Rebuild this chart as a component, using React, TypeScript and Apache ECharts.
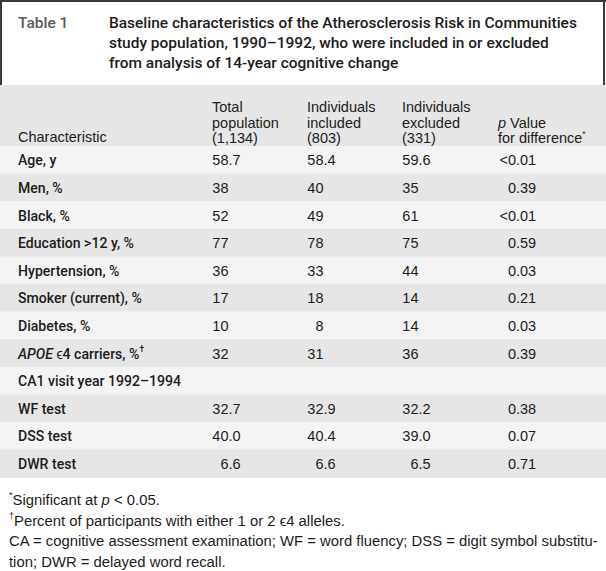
import React, { useEffect, useRef } from "react";
import * as echarts from "echarts";

const tableLabel = "Table 1";
const titleLines = [
  "Baseline characteristics of the Atherosclerosis Risk in Communities",
  "study population, 1990–1992, who were included in or excluded",
  "from analysis of 14-year cognitive change",
];
const firstHeader = "Characteristic";
const columnHeaders = [
  ["Total", "population", "(1,134)"],
  ["Individuals", "included", "(803)"],
  ["Individuals", "excluded", "(331)"],
  ["{i|p} Value", "for difference{sup|*}"],
];
const characteristics = [
  "Age, y",
  "Men, %",
  "Black, %",
  "Education >12 y, %",
  "Hypertension, %",
  "Smoker (current), %",
  "Diabetes, %",
  "{bi|APOE} ϵ4 carriers, %{sup|†}",
  "CA1 visit year 1992–1994",
  "WF test",
  "DSS test",
  "DWR test",
];
const totalPopulation = ["58.7", "38", "52", "77", "36", "17", "10", "32", "", "32.7", "40.0", "6.6"];
const individualsIncluded = ["58.4", "40", "49", "78", "33", "18", "8", "31", "", "32.9", "40.4", "6.6"];
const individualsExcluded = ["59.6", "35", "61", "75", "44", "14", "14", "36", "", "32.2", "39.0", "6.5"];
const pValues = ["<0.01", "0.39", "<0.01", "0.59", "0.03", "0.21", "0.03", "0.39", "", "0.38", "0.07", "0.71"];
const footnotes = [
  "{sup|*}Significant at {i|p} < 0.05.",
  "{sup|†}Percent of participants with either 1 or 2 ϵ4 alleles.",
  "CA = cognitive assessment examination; WF = word fluency; DSS = digit symbol substitu-",
  "tion; DWR = delayed word recall.",
];

const SANS = "'Liberation Sans', Arial, sans-serif";
const HEAD = "Roboto, 'Liberation Sans', Arial, sans-serif";
const INK = "#1c1c1c";

function fitSize(text: string, family: string, weight: string, target: number, fallback: number) {
  try {
    const ctx = document.createElement("canvas").getContext("2d");
    if (!ctx) return fallback;
    ctx.font = `${weight} 100px ${family}`;
    const w = ctx.measureText(text).width;
    if (!w) return fallback;
    return (100 * target) / w;
  } catch (e) {
    return fallback;
  }
}

export default function App() {
  const ref = useRef<HTMLDivElement>(null);

  useEffect(() => {
    document.body.style.margin = "0";
    if (!ref.current) return;
    const chart = echarts.init(ref.current, undefined, { renderer: "svg" });

    const W = 606;
    const els: any[] = [];

    const titleSize = fitSize(titleLines[0], HEAD, "500", 468, 15.5);
    const labelSize = fitSize("Smoker (current), %", HEAD, "500", 124, 14);
    const footSize = fitSize(footnotes[2], SANS, "normal", 590, 15);
    const bodySize = 14.5;

    const txt = (text: string, x: number, y: number, o: any = {}) => {
      const align = o.align || "left";
      const va = o.va || "middle";
      els.push({
        type: "text",
        z: 10,
        style: {
          text,
          x,
          y,
          fill: o.fill || INK,
          fontFamily: o.family || SANS,
          fontSize: o.size || bodySize,
          fontWeight: o.weight || "normal",
          fontStyle: o.style || "normal",
          lineHeight: o.lh || 18,
          align,
          textAlign: align,
          verticalAlign: va,
          textVerticalAlign: va,
          rich: o.rich,
        },
      });
    };

    // title box
    els.push({ type: "rect", shape: { x: 0, y: 0, width: W, height: 85 }, style: { fill: "#ffffff" } });
    els.push({ type: "line", shape: { x1: 0, y1: 1, x2: W, y2: 1 }, style: { stroke: "#3a3a3a", lineWidth: 2 } });
    els.push({ type: "line", shape: { x1: 1, y1: 0, x2: 1, y2: 85 }, style: { stroke: "#3a3a3a", lineWidth: 2 } });
    els.push({ type: "line", shape: { x1: 604, y1: 0, x2: 604, y2: 85 }, style: { stroke: "#3a3a3a", lineWidth: 2 } });

    txt(tableLabel, 18, 23, { size: titleSize, weight: "500", fill: "#5a5a5a", family: HEAD });
    titleLines.forEach((l, i) => txt(l, 109, 23 + i * 20, { size: titleSize, weight: "500", family: HEAD }));

    // header band
    const headerTop = 85;
    const bodyTop = 146;
    const rowH = 27.6;
    els.push({ type: "rect", shape: { x: 0, y: headerTop, width: W, height: bodyTop - headerTop }, style: { fill: "#e6e6e6" } });

    const rich = {
      i: { fontStyle: "italic", fontFamily: SANS, fontSize: bodySize },
      sup: { fontSize: 8.5, verticalAlign: "top", fontFamily: SANS, lineHeight: 18 },
    };

    txt(firstHeader, 18, 137, {});
    const colX = [212, 307, 402, 498];
    const headerLineH = 15.5;
    columnHeaders.forEach((lines, c) => {
      const n = lines.length;
      lines.forEach((l, k) => {
        txt(l, colX[c], 138 - (n - 1 - k) * headerLineH, { rich });
      });
    });

    // rows
    const decX = [228.5, 323.5, 418.5, 516];
    const cols = [totalPopulation, individualsIncluded, individualsExcluded, pValues];
    const boldRich = {
      bi: { fontStyle: "italic", fontWeight: "500", fontFamily: HEAD, fontSize: labelSize },
      sup: { fontSize: 8.5, verticalAlign: "top", fontFamily: HEAD, lineHeight: 18, fontWeight: "500" },
    };
    characteristics.forEach((label, r) => {
      const top = bodyTop + r * rowH;
      els.push({
        type: "rect",
        shape: { x: 0, y: top, width: W, height: rowH + 0.5 },
        style: { fill: r % 2 === 0 ? "#f4f4f4" : "#e6e6e6" },
      });
      const cy = top + rowH / 2 + 0.5;
      txt(label, 18, cy, { weight: "500", size: labelSize, rich: boldRich, family: HEAD });
      cols.forEach((col, c) => {
        const v = col[r];
        if (!v) return;
        const idx = v.indexOf(".");
        const intPart = idx >= 0 ? v.slice(0, idx) : v;
        const frac = idx >= 0 ? v.slice(idx) : "";
        txt(intPart, decX[c], cy, { align: "right" });
        if (frac) txt(frac, decX[c], cy, { align: "left" });
      });
    });

    // footnotes
    const footRich = {
      i: { fontStyle: "italic", fontFamily: SANS, fontSize: footSize },
      sup: { fontSize: 9, verticalAlign: "top", fontFamily: SANS, lineHeight: 19 },
    };
    footnotes.forEach((f, i) => txt(f, 9, 500 + i * 20.6, { size: footSize, lh: 19, rich: footRich }));

    chart.setOption({
      animation: false,
      backgroundColor: "#ffffff",
      graphic: { elements: els },
    });

    return () => chart.dispose();
  }, []);

  return <div ref={ref} style={{ width: 606, height: 571 }} />;
}
